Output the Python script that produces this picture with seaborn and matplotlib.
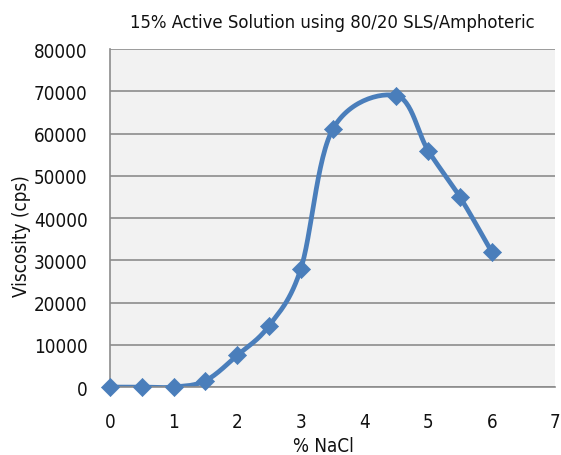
import numpy as np
import pandas as pd
import matplotlib
matplotlib.use("Agg")
import matplotlib.pyplot as plt
import seaborn as sns

nacl = [0, 0.5, 1, 1.5, 2, 2.5, 3, 3.5, 4.5, 5, 5.5, 6]
viscosity = [0, 0, 0, 1500, 7500, 14500, 28000, 61000, 69000, 56000, 45000, 32000]
title = "15% Active Solution using 80/20 SLS/Amphoteric"
xlabel = "% NaCl"
ylabel = "Viscosity (cps)"

sns.set_theme(style="white")
plt.rcParams["font.family"] = ["DejaVu Sans"]
plt.rcParams["font.stretch"] = "condensed"
txt = "#111111"

df = pd.DataFrame({"x": nacl, "y": viscosity})

# Excel-style smoothed line (Catmull-Rom through the data points)
def smooth(xs, ys, n=30):
    P = np.column_stack([xs, ys]).astype(float)
    P = np.vstack([P[0], P, P[-1]])
    out = []
    for i in range(1, len(P) - 2):
        p0, p1, p2, p3 = P[i - 1], P[i], P[i + 1], P[i + 2]
        c1 = p1 + (p2 - p0) / 6
        c2 = p2 - (p3 - p1) / 6
        t = np.linspace(0, 1, n)[:, None]
        seg = (1 - t) ** 3 * p1 + 3 * (1 - t) ** 2 * t * c1 + 3 * (1 - t) * t ** 2 * c2 + t ** 3 * p2
        out.append(seg if i == 1 else seg[1:])
    return np.vstack(out)

curve = smooth(nacl, viscosity)
cdf = pd.DataFrame({"x": curve[:, 0], "y": curve[:, 1]})

fig = plt.figure(figsize=(5.61, 4.56), dpi=100)
ax = fig.add_axes([0.196, 0.149, 0.794, 0.741])
ax.set_facecolor("#f2f2f2")
color = "#4a7ebb"
sns.lineplot(data=cdf, x="x", y="y", ax=ax, color=color, linewidth=3.4, sort=False, estimator=None)
sns.scatterplot(data=df, x="x", y="y", ax=ax, color=color, marker="D", s=85, edgecolor=color, linewidth=0.5, zorder=5)
for c in ax.collections:
    c.set_clip_on(False)

ax.set_xlim(0, 7)
ax.set_ylim(0, 80000)
ax.set_xticks(range(0, 8))
ax.set_yticks(range(0, 80001, 10000))
ax.set_yticklabels([str(v) for v in range(0, 80001, 10000)])
ax.grid(axis="y", color="#8c8c8c", linewidth=1.2)
ax.set_axisbelow(True)
for s in ["top", "right"]:
    ax.spines[s].set_visible(False)
for s in ["left", "bottom"]:
    ax.spines[s].set_color("#8c8c8c")
    ax.spines[s].set_linewidth(1.2)
ax.tick_params(axis="y", length=4, color="#8c8c8c", labelsize=13.5, pad=12, labelcolor=txt)
ax.tick_params(axis="x", length=0, labelsize=13.5, pad=18, labelcolor=txt)
ax.set_xlabel(xlabel, fontsize=13.5, color=txt, va="center")
ax.set_ylabel(ylabel, fontsize=13.5, color=txt, va="center")
ax.xaxis.set_label_coords(0.48, -0.172)
ax.yaxis.set_label_coords(-0.198, 0.45)
ax.set_title(title, fontsize=13.2, pad=16, color=txt)
fig.savefig("out.png", dpi=100)
